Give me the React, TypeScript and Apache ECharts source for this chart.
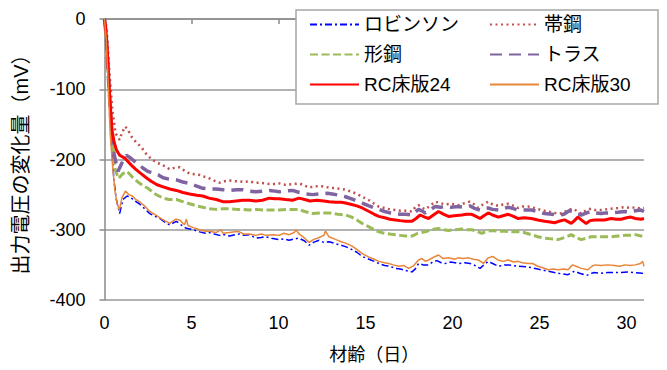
import React, { useEffect, useRef } from "react";
import * as echarts from "echarts";

const seriesNames = ["ロビンソン", "帯鋼", "形鋼", "トラス", "RC床版24", "RC床版30"];
const xTitle = "材齢（日）";
const yTitle = "出力電圧の変化量（mV）";

const robinson: number[][] = [
  [0, 0], [0.1, -35], [0.24, -101], [0.39, -172], [0.54, -229], [0.68, -257], [0.87, -277], [1.06, -257], [1.3, -252], [1.5, -254],
  [1.74, -259], [2.0, -263], [2.3, -270], [2.6, -277], [3.0, -282], [3.18, -284], [3.5, -290], [3.75, -293], [4.13, -288], [4.4, -293],
  [4.7, -298], [5.1, -300], [5.47, -303], [5.8, -305], [6.04, -304], [6.3, -306], [6.61, -308], [6.9, -307], [7.18, -309], [7.5, -307],
  [7.75, -306], [8.0, -308], [8.32, -307], [8.7, -312], [9.0, -311], [9.28, -310], [9.6, -312], [10.04, -314], [10.3, -313], [10.61, -315],
  [10.9, -313], [11.18, -312], [11.5, -316], [11.76, -322], [12.0, -318], [12.33, -315], [12.6, -318], [12.9, -317], [13.3, -320], [13.6, -322],
  [13.85, -324], [14.2, -328], [14.5, -332], [14.81, -338], [15.2, -342], [15.5, -345], [15.76, -348], [16.1, -351], [16.4, -352], [16.71, -355],
  [17.0, -356], [17.3, -358], [17.67, -360], [17.85, -356], [18.05, -348], [18.3, -350], [18.62, -350], [18.85, -346], [19.1, -344], [19.35, -347],
  [19.57, -348], [19.9, -346], [20.34, -348], [20.7, -347], [21.0, -348], [21.3, -351], [21.58, -355], [21.8, -350], [22.05, -345], [22.3, -348],
  [22.63, -352], [23.0, -350], [23.2, -350], [23.5, -351], [23.77, -352], [24.34, -353], [24.9, -356], [25.49, -359], [26.06, -362], [26.63, -364],
  [27.0, -359], [27.3, -362], [27.7, -365], [28.1, -361], [28.5, -362], [28.92, -361], [29.5, -361], [30.06, -360], [30.5, -361], [30.92, -362], [31, -361],
];

const obiko: number[][] = [
  [0, 0], [0.1, -10], [0.17, -30], [0.26, -68], [0.45, -130], [0.64, -163], [0.87, -172], [1.0, -162], [1.19, -153], [1.35, -158],
  [1.54, -167], [1.8, -175], [2.1, -182], [2.4, -192], [2.68, -199], [3.02, -205], [3.18, -206], [3.5, -210], [3.75, -214], [4.0, -212],
  [4.32, -211], [4.6, -216], [4.89, -220], [5.2, -221], [5.47, -222], [5.8, -225], [6.04, -227], [6.3, -230], [6.61, -233], [6.9, -231],
  [7.18, -230], [7.5, -231], [7.75, -231], [8.0, -232], [8.32, -231], [8.6, -233], [8.9, -233], [9.2, -234], [9.47, -235], [9.8, -235],
  [10.04, -234], [10.4, -236], [10.8, -235], [11.18, -234], [11.5, -237], [11.76, -240], [12.1, -238], [12.5, -238], [12.9, -240], [13.3, -241],
  [13.6, -242], [13.85, -243], [14.2, -246], [14.5, -249], [14.81, -253], [15.2, -258], [15.5, -263], [15.76, -267], [16.1, -269], [16.4, -271],
  [16.71, -272], [17.0, -273], [17.3, -273], [17.67, -274], [17.85, -268], [18.05, -265], [18.2, -268], [18.43, -271], [18.7, -266], [19.0, -260],
  [19.3, -262], [19.57, -264], [19.9, -263], [20.34, -265], [20.7, -262], [21.0, -260], [21.25, -264], [21.48, -269], [21.75, -264], [22.05, -260],
  [22.3, -264], [22.63, -266], [22.9, -264], [23.2, -263], [23.5, -266], [23.77, -269], [24.0, -267], [24.34, -267], [24.7, -269], [25.1, -272],
  [25.5, -274], [25.8, -276], [26.06, -277], [26.4, -276], [26.6, -272], [26.92, -270], [27.2, -274], [27.39, -277], [27.7, -272], [27.96, -270],
  [28.2, -272], [28.53, -272], [28.8, -271], [29.11, -270], [29.5, -269], [29.87, -268], [30.2, -269], [30.5, -268], [30.83, -270], [31, -269],
];

const katako: number[][] = [
  [0, 0], [0.1, -30], [0.3, -115], [0.49, -182], [0.62, -215], [0.81, -227], [1.06, -220], [1.31, -217], [1.6, -225], [1.92, -232],
  [2.2, -237], [2.5, -241], [2.75, -246], [2.97, -250], [3.37, -255], [3.7, -257], [4.13, -257], [4.5, -260], [4.89, -263], [5.3, -266],
  [5.65, -268], [6.0, -270], [6.42, -271], [6.8, -270], [7.18, -270], [7.6, -271], [7.94, -271], [8.3, -272], [8.7, -271], [9.1, -272],
  [9.47, -272], [9.8, -272], [10.04, -272], [10.5, -271], [11.18, -271], [11.5, -274], [11.95, -277], [12.4, -276], [12.9, -276], [13.4, -278],
  [13.85, -279], [14.2, -282], [14.5, -286], [14.81, -291], [15.2, -296], [15.5, -300], [15.76, -303], [16.1, -305], [16.4, -306], [16.71, -307],
  [17.0, -308], [17.3, -309], [17.67, -309], [18.0, -305], [18.43, -303], [18.8, -300], [19.19, -298], [19.5, -300], [19.77, -301], [20.1, -300],
  [20.53, -299], [20.8, -300], [21.1, -300], [21.4, -302], [21.67, -305], [21.9, -303], [22.24, -301], [22.6, -302], [23.0, -302], [23.4, -303],
  [23.77, -303], [24.1, -304], [24.53, -307], [24.9, -310], [25.29, -312], [25.68, -313], [26.06, -314], [26.44, -311], [26.82, -307], [27.1, -311],
  [27.39, -314], [27.7, -312], [27.96, -310], [28.3, -310], [28.7, -310], [29.11, -310], [29.5, -309], [29.9, -308], [30.2, -308], [30.5, -307],
  [30.83, -309], [31, -309],
];

const truss: number[][] = [
  [0, 0], [0.1, -25], [0.24, -90], [0.39, -153], [0.54, -191], [0.77, -217], [1.0, -205], [1.25, -194], [1.5, -198], [1.85, -205],
  [2.2, -212], [2.5, -217], [2.8, -219], [3.1, -222], [3.37, -226], [3.7, -228], [4.13, -229], [4.5, -232], [4.89, -234], [5.3, -238],
  [5.65, -241], [6.0, -242], [6.42, -242], [6.8, -243], [7.18, -244], [7.6, -243], [7.94, -243], [8.3, -245], [8.7, -246], [9.1, -245],
  [9.47, -244], [9.8, -245], [10.04, -246], [10.4, -245], [10.8, -244], [11.2, -247], [11.6, -249], [11.95, -250], [12.4, -249], [12.8, -248],
  [13.09, -249], [13.5, -251], [13.85, -253], [14.2, -256], [14.5, -259], [14.81, -262], [15.2, -266], [15.5, -269], [15.76, -271], [16.1, -274],
  [16.4, -276], [16.71, -277], [17.0, -278], [17.3, -278], [17.67, -279], [17.85, -275], [18.05, -271], [18.3, -274], [18.43, -276], [18.7, -272],
  [19.0, -267], [19.3, -268], [19.57, -267], [19.9, -268], [20.34, -267], [20.7, -268], [21.0, -266], [21.3, -270], [21.58, -272], [21.8, -270],
  [22.05, -269], [22.3, -271], [22.63, -272], [22.9, -270], [23.2, -268], [23.5, -270], [23.77, -272], [24.1, -272], [24.53, -272], [24.9, -274],
  [25.29, -277], [25.7, -278], [26.06, -279], [26.4, -278], [26.7, -273], [26.92, -274], [27.2, -278], [27.39, -279], [27.7, -276], [27.96, -274],
  [28.2, -276], [28.53, -277], [28.8, -276], [29.11, -276], [29.5, -275], [29.87, -274], [30.2, -275], [30.5, -273], [30.83, -272], [31, -274],
];

const rc24: number[][] = [
  [0, 0], [0.08, -15], [0.16, -44], [0.3, -111], [0.43, -158], [0.55, -175], [0.68, -186], [0.87, -194], [1.16, -198], [1.54, -208],
  [1.8, -214], [2.1, -220], [2.4, -226], [2.68, -231], [3.02, -236], [3.37, -239], [3.75, -242], [4.13, -244], [4.5, -247], [4.89, -249],
  [5.3, -251], [5.65, -252], [6.0, -255], [6.42, -257], [6.8, -260], [7.18, -260], [7.56, -259], [7.94, -258], [8.32, -258], [8.7, -259],
  [9.08, -258], [9.47, -255], [9.8, -256], [10.04, -256], [10.4, -257], [10.8, -258], [11.18, -255], [11.5, -257], [11.8, -259], [12.2, -258],
  [12.6, -259], [12.9, -260], [13.3, -261], [13.6, -261], [13.85, -262], [14.2, -264], [14.5, -266], [14.81, -269], [15.2, -274], [15.5, -278],
  [15.76, -281], [16.1, -283], [16.4, -285], [16.71, -286], [17.0, -287], [17.3, -288], [17.67, -288], [17.9, -284], [18.14, -279], [18.4, -282],
  [18.62, -284], [18.9, -279], [19.19, -274], [19.5, -278], [19.77, -281], [20.1, -280], [20.53, -279], [20.8, -278], [21.1, -278], [21.35, -281],
  [21.58, -284], [21.8, -280], [22.05, -276], [22.3, -279], [22.63, -282], [22.9, -280], [23.2, -278], [23.5, -281], [23.77, -284], [24.1, -283],
  [24.53, -284], [24.9, -286], [25.29, -288], [25.6, -289], [25.87, -290], [26.1, -288], [26.44, -286], [26.82, -291], [27.0, -287], [27.2, -282],
  [27.45, -287], [27.68, -291], [27.9, -287], [28.15, -286], [28.5, -286], [28.73, -286], [29.11, -284], [29.4, -285], [29.68, -285], [30.0, -283],
  [30.25, -282], [30.5, -284], [30.83, -285], [31, -284],
];

const rc30: number[][] = [
  [0, 0], [0.1, -30], [0.21, -90], [0.32, -160], [0.45, -205], [0.6, -245], [0.72, -262], [0.85, -272], [1.0, -255], [1.2, -245],
  [1.4, -250], [1.6, -252], [1.75, -256], [2.0, -260], [2.3, -266], [2.6, -274], [3.0, -280], [3.3, -285], [3.75, -291], [4.1, -285],
  [4.32, -286], [4.6, -293], [4.7, -285], [4.8, -294], [5.1, -297], [5.47, -300], [5.8, -302], [6.04, -302], [6.4, -304], [6.7, -300],
  [6.8, -305], [7.18, -304], [7.5, -303], [7.75, -303], [8.0, -306], [8.32, -306], [8.7, -308], [9.0, -306], [9.3, -308], [9.7, -307],
  [10.04, -308], [10.3, -305], [10.61, -307], [10.9, -304], [11.0, -300], [11.18, -306], [11.5, -312], [11.76, -318], [12.0, -314], [12.33, -311],
  [12.6, -308], [12.7, -302], [12.9, -310], [13.3, -314], [13.6, -317], [13.85, -319], [14.2, -323], [14.5, -328], [14.81, -334], [15.2, -339],
  [15.5, -342], [15.76, -345], [16.1, -347], [16.33, -348], [16.6, -350], [16.9, -352], [17.2, -351], [17.48, -355], [17.77, -351], [18.05, -343],
  [18.24, -341], [18.45, -345], [18.7, -342], [19.0, -338], [19.2, -336], [19.45, -341], [19.77, -340], [20.1, -342], [20.34, -340], [20.6, -341],
  [20.91, -340], [21.2, -342], [21.48, -343], [21.77, -348], [22.05, -340], [22.3, -338], [22.6, -343], [22.9, -345], [23.2, -343], [23.5, -346],
  [23.77, -345], [24.0, -347], [24.34, -348], [24.6, -348], [24.9, -352], [25.2, -354], [25.49, -357], [25.8, -356], [26.06, -357], [26.4, -356],
  [26.63, -357], [26.9, -350], [27.1, -352], [27.4, -355], [27.78, -357], [28.0, -352], [28.2, -350], [28.5, -351], [28.92, -350], [29.3, -351],
  [29.6, -352], [29.9, -350], [30.2, -351], [30.5, -350], [30.8, -348], [30.92, -345], [31, -352],
];

const FONT = '"Liberation Sans", Arial, "Noto Sans CJK JP", sans-serif';

export default function App() {
  const ref = useRef<HTMLDivElement>(null);
  useEffect(() => {
    if (!ref.current) return;
    const chart = echarts.init(ref.current, undefined, { renderer: "svg" });
    const axisColor = "#8a8a8a";
    const mk = (name: string, data: number[][], color: string, width: number, type: any, z: number) => ({
      name,
      type: "line",
      data,
      symbol: "none",
      showSymbol: false,
      z,
      lineStyle: { color, width, type },
      itemStyle: { color },
    });
    const legendBase = {
      orient: "vertical",
      top: 15,
      padding: 0,
      itemWidth: 49,
      itemHeight: 20,
      itemGap: 11,
      selectedMode: false,
      z: 20,
      itemStyle: { color: "rgba(0,0,0,0)", borderWidth: 0, opacity: 0 },
      textStyle: { fontSize: 19, color: "#000", fontFamily: FONT },
    };
    chart.setOption({
      animation: false,
      textStyle: { fontFamily: FONT },
      grid: { left: 104.5, right: 23, top: 19, bottom: 70, containLabel: false },
      xAxis: {
        type: "value",
        min: 0,
        max: 31,
        interval: 5,
        name: xTitle,
        nameLocation: "middle",
        nameGap: 46,
        nameTextStyle: { fontSize: 18, color: "#000", fontFamily: FONT },
        axisLine: { show: true, lineStyle: { color: axisColor, width: 1.5 } },
        axisTick: { show: true, length: 5, lineStyle: { color: axisColor, width: 1.5 } },
        axisLabel: { fontSize: 18, color: "#000", margin: 14, fontFamily: FONT },
        splitLine: { show: false },
      },
      yAxis: {
        type: "value",
        min: -400,
        max: 0,
        interval: 100,
        name: yTitle,
        nameLocation: "middle",
        nameRotate: 90,
        nameGap: 74,
        nameTextStyle: { fontSize: 20, color: "#000", fontFamily: FONT },
        axisLine: { show: true, lineStyle: { color: axisColor, width: 1.5 } },
        axisTick: { show: true, length: 5, lineStyle: { color: axisColor, width: 1.5 } },
        axisLabel: { fontSize: 18, color: "#000", margin: 19, fontFamily: FONT },
        splitLine: { show: true, lineStyle: { color: "#999", width: 1.5 } },
      },
      legend: [
        { ...legendBase, left: 309, data: [seriesNames[0], seriesNames[2], seriesNames[4]] },
        { ...legendBase, left: 489, data: [seriesNames[1], seriesNames[3], seriesNames[5]] },
      ],
      graphic: [
        {
          type: "rect",
          z: 10,
          shape: { x: 296, y: 10, width: 362, height: 94 },
          style: { fill: "#fff", stroke: "#a6a6a6", lineWidth: 1.5 },
        },
      ],
      series: [
        mk(seriesNames[0], robinson, "#0000ff", 1.5, [7, 3, 2, 3], 2),
        mk(seriesNames[1], obiko, "#c0504d", 2.5, [2, 3.5], 3),
        mk(seriesNames[2], katako, "#9bbb59", 3, [8, 3.5], 4),
        mk(seriesNames[3], truss, "#8064a2", 3.5, [12, 7], 5),
        mk(seriesNames[4], rc24, "#ff0000", 3, "solid", 6),
        mk(seriesNames[5], rc30, "#e8873a", 1.5, "solid", 7),
      ],
    });
    return () => chart.dispose();
  }, []);
  return (
    <div
      ref={ref}
      style={{ position: "fixed", left: 0, top: 0, width: 667, height: 370, background: "#fff" }}
    />
  );
}
